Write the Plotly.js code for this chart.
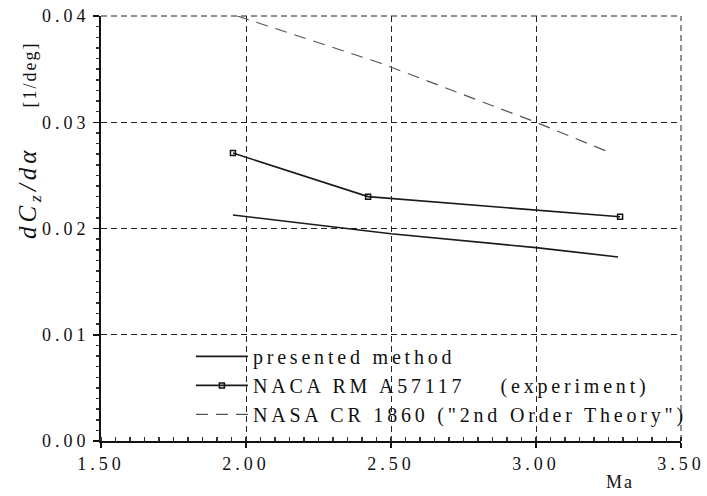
<!DOCTYPE html>
<html><head><meta charset="utf-8">
<script src="https://cdn.plot.ly/plotly-3.0.1.min.js"></script>
<style>
body{margin:0;background:#fff}#c{width:707px;height:496px}
.legendtext{letter-spacing:3.8px}
.xtick text,.ytick text{letter-spacing:4px}
.annotation-text{letter-spacing:2px}
</style>
</head><body><div id="c"></div>
<script>
// Data
const presentedMa = [1.955, 2.50, 3.00, 3.283];
const presentedVal = [0.02127, 0.0195, 0.0182, 0.01732];
const experimentMa = [1.955, 2.421, 3.29];
const experimentVal = [0.0271, 0.0230, 0.0211];
const theoryMa = [1.97, 2.46, 3.00, 3.25];
const theoryVal = [0.0400, 0.0356, 0.0300, 0.0272];
const xTicks = [1.5, 2.0, 2.5, 3.0, 3.5];
const xTickText = ["1.50", "2.00", "2.50", "3.00", "3.50"];
const yTicks = [0, 0.01, 0.02, 0.03, 0.04];
const yTickText = ["0.00", "0.01", "0.02", "0.03", "0.04"];

const serif = "Liberation Serif, Times New Roman, serif";
const traces = [
  {x: presentedMa, y: presentedVal, name: "presented method", mode: "lines",
   line: {color: "#1a1a1a", width: 1.6}},
  {x: experimentMa, y: experimentVal, name: "NACA RM A57117&nbsp;&nbsp;&nbsp;&nbsp;(experiment)", mode: "lines+markers",
   line: {color: "#1a1a1a", width: 1.6},
   marker: {symbol: "square-open", size: 5, color: "#111", line: {width: 1.5}}},
  {x: theoryMa, y: theoryVal, name: "NASA CR 1860 (\"2nd Order Theory\")", mode: "lines",
   line: {color: "#555", width: 1.2, dash: "12px,8px"}}
];
const layout = {
  width: 707, height: 496,
  margin: {l: 101, r: 26, t: 16, b: 55},
  paper_bgcolor: "#fff", plot_bgcolor: "#fff",
  font: {family: serif, size: 18, color: "#111"},
  showlegend: true,
  legend: {x: 0.155, y: 0.245, xanchor: "left", yanchor: "top", bgcolor: "rgba(0,0,0,0)",
    font: {family: serif, size: 20, color: "#111"}, tracegroupgap: 0, itemwidth: 52},
  xaxis: {range: [1.5, 3.5], tickvals: xTicks, ticktext: xTickText,
    showline: true, linecolor: "#111", linewidth: 2, mirror: false,
    ticks: "outside", ticklen: 5, tickcolor: "#111", tickwidth: 1.5,
    showgrid: true, gridcolor: "#222", griddash: "6px,4px", gridwidth: 1,
    minor: {dtick: 0.05, ticks: "inside", ticklen: 4, tickcolor: "#333", showgrid: false},
    zeroline: false, tickfont: {family: serif, size: 18}},
  yaxis: {range: [0, 0.04], tickvals: yTicks, ticktext: yTickText,
    showline: true, linecolor: "#111", linewidth: 2,
    ticks: "outside", ticklen: 6, tickcolor: "#111", tickwidth: 1.5,
    showgrid: true, gridcolor: "#222", griddash: "6px,4px", gridwidth: 1,
    minor: {dtick: 0.001, ticks: "outside", ticklen: 3, tickcolor: "#333", showgrid: false},
    zeroline: false, tickfont: {family: serif, size: 18}},
  shapes: [
    {type: "line", xref: "paper", yref: "paper", x0: 1, x1: 1, y0: 0, y1: 1,
     line: {color: "#222", width: 1, dash: "6px,4px"}},
    {type: "line", xref: "paper", yref: "paper", x0: 0, x1: 1, y0: 1, y1: 1,
     line: {color: "#222", width: 1, dash: "6px,4px"}}
  ],
  annotations: [
    {text: "Ma", xref: "paper", yref: "paper", x: 0.895, y: -0.096, xanchor: "center", yanchor: "middle",
     showarrow: false, font: {family: serif, size: 18, color: "#111"}},
    {text: "<span style='font-size:25px;letter-spacing:4px'><i>dC<sub>z</sub>/dα</i></span>&nbsp;&nbsp;&nbsp;&nbsp;&nbsp;&nbsp;[1/deg]",
     xref: "paper", yref: "paper", x: 0, y: 0.708, xshift: -72, textangle: -90,
     xanchor: "center", yanchor: "middle", showarrow: false,
     font: {family: serif, size: 18, color: "#111"}}
  ]
};
Plotly.newPlot("c", traces, layout, {displayModeBar: false, staticPlot: true});
</script></body></html>
